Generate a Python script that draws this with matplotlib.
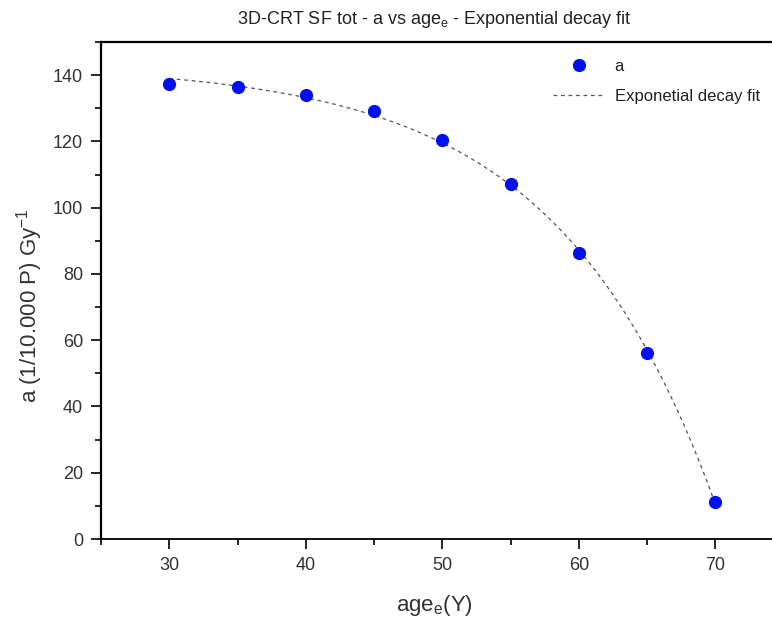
import matplotlib
matplotlib.use("Agg")
import matplotlib.pyplot as plt
from matplotlib.ticker import MultipleLocator
import numpy as np

plt.rcParams['font.family'] = ['Liberation Sans', 'DejaVu Sans']

# data
age = np.array([30, 35, 40, 45, 50, 55, 60, 65, 70])
a_vals = np.array([137.3, 136.4, 134.0, 129.1, 120.5, 107.0, 86.4, 56.0, 11.3])

# exponential fit y = y0 - A*exp(x/t), grid search on t, least squares for y0, A
best = None
for t in np.linspace(3, 30, 2701):
    M = np.column_stack([np.ones_like(age, dtype=float), -np.exp(age / t)])
    coef, *_ = np.linalg.lstsq(M, a_vals, rcond=None)
    err = np.sum((M @ coef - a_vals) ** 2)
    if best is None or err < best[0]:
        best = (err, t, coef)
_, t_fit, (y0, A) = best
xf = np.linspace(age.min(), age.max(), 300)
yf = y0 - A * np.exp(xf / t_fit)

fig = plt.figure(figsize=(7.72, 6.21), dpi=100)
ax = fig.add_axes([101 / 772, 82 / 621, 682.5 / 772, 497 / 621])

ax.plot(xf, yf, linestyle=(0, (3, 3)), color='#555555', linewidth=0.9,
        label='Exponetial decay fit', zorder=2)
ax.plot(age, a_vals, 'o', color='#0010f0', markersize=8.5, linestyle='none',
        label='a', zorder=3)

ax.set_xlim(25, 75)
ax.set_ylim(0, 150)
ax.xaxis.set_major_locator(MultipleLocator(10))
ax.xaxis.set_minor_locator(MultipleLocator(5))
ax.yaxis.set_major_locator(MultipleLocator(20))
ax.yaxis.set_minor_locator(MultipleLocator(10))

ax.spines['right'].set_visible(False)
ax.spines['top'].set_linewidth(1.6)
ax.spines['left'].set_linewidth(1.6)
ax.spines['bottom'].set_linewidth(1.3)
ax.tick_params(which='major', direction='out', length=7, width=1.2,
               labelsize=13, labelcolor='#333333', pad=6)
ax.tick_params(which='minor', direction='out', length=4, width=1.2)
ax.tick_params(top=False, right=False)

ax.set_xlabel('age$_\\mathregular{e}$(Y)', fontsize=16, color='#333333')
ax.xaxis.set_label_coords((434 - 101) / 682.5, -(605 - 539) / 497)
ax.xaxis.label.set_va('center')
ax.set_ylabel('a (1/10.000 P) Gy$^\\mathregular{-1}$', fontsize=16,
              color='#333333')
ax.yaxis.set_label_coords(-(101 - 30) / 682.5, (539 - 306) / 497)
ax.yaxis.label.set_va('center')

fig.text(434 / 772, 1 - 19 / 621,
         '3D-CRT SF tot - a vs age$_\\mathregular{e}$ - Exponential decay fit',
         ha='center', va='center', fontsize=13, color='#222222')

handles, labels = ax.get_legend_handles_labels()
leg = ax.legend(handles[::-1], labels[::-1], loc='upper left',
                bbox_to_anchor=((553 - 101) / 682.5, 1.0 - (59 - 42) / 497),
                frameon=False, fontsize=12, handlelength=3.1,
                labelspacing=0.9, handletextpad=0.6,
                borderpad=0, borderaxespad=0)
for txt in leg.get_texts():
    txt.set_color('#222222')

fig.savefig('out.png', dpi=100)
